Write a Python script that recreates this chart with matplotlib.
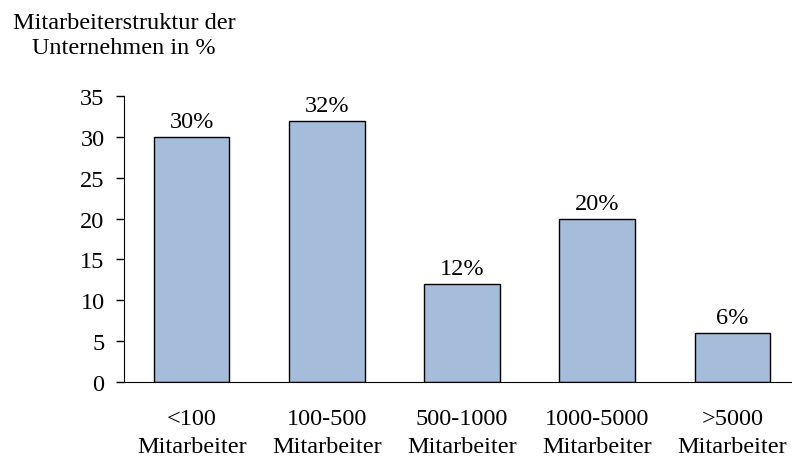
import matplotlib.pyplot as plt

# Daten
kategorien = ["<100\nMitarbeiter", "100-500\nMitarbeiter", "500-1000\nMitarbeiter",
              "1000-5000\nMitarbeiter", ">5000\nMitarbeiter"]
anteile = [30, 32, 12, 20, 6]
beschriftungen = ["30%", "32%", "12%", "20%", "6%"]

plt.rcParams['font.family'] = ['Liberation Serif', 'DejaVu Serif']
FS = 17.5

fig = plt.figure(figsize=(7.92, 4.6), dpi=100)
ax = fig.add_axes([124 / 792, 77 / 460, 676 / 792, 286 / 460])

x = range(len(anteile))
bars = ax.bar(x, anteile, width=0.56, color="#A5BDDA", edgecolor="black", linewidth=1)

for b, txt in zip(bars, beschriftungen):
    ax.text(b.get_x() + b.get_width() / 2, b.get_height() + 0.6, txt,
            ha="center", va="bottom", fontsize=FS)

ax.set_xlim(-0.5, 4.5)
ax.set_ylim(0, 35)
ax.set_yticks(range(0, 36, 5))
ax.set_xticks(list(x))
ax.set_xticklabels(kategorien, fontsize=FS, linespacing=1.4)
ax.tick_params(axis="x", length=0, pad=19)
ax.tick_params(axis="y", length=6, width=1, labelsize=FS, pad=8)

ax.spines["top"].set_visible(False)
ax.spines["right"].set_visible(False)

# Achsentitel oben links
fig.text(124 / 792, 1 - 36 / 460, "Mitarbeiterstruktur der\nUnternehmen in %",
         ha="center", va="center", fontsize=FS, linespacing=1.3)

fig.savefig("out.png", dpi=100)
